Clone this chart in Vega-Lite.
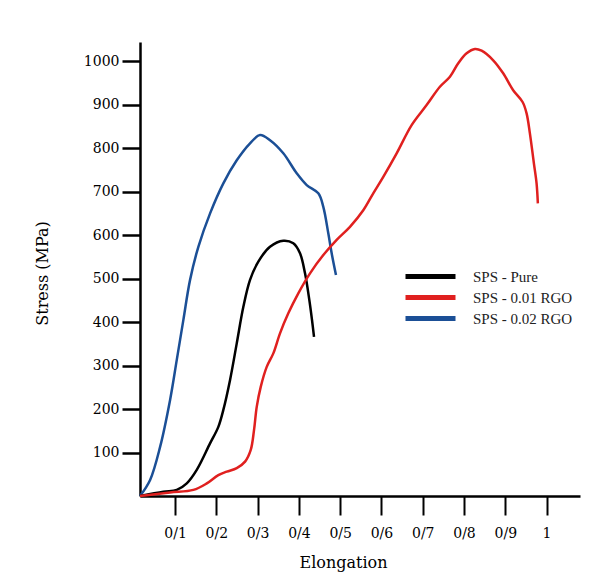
{
  "$schema": "https://vega.github.io/schema/vega-lite/v6.json",
  "width": 440,
  "height": 454,
  "autosize": {"type": "none"},
  "padding": {"left": 140, "top": 42, "right": 34, "bottom": 79},
  "background": "white",
  "config": {
    "view": {"stroke": null},
    "axis": {
      "grid": false,
      "domainColor": "#000",
      "tickColor": "#000",
      "labelColor": "#000",
      "titleColor": "#000",
      "labelFont": "DejaVu Serif",
      "titleFont": "DejaVu Serif",
      "labelFontSize": 14,
      "titleFontSize": 16,
      "titleFontWeight": "normal"
    }
  },
  "data": {
    "values": [
      {"series": "SPS - 0.02 RGO", "elongation": 0.015, "stress": 0},
      {"series": "SPS - 0.02 RGO", "elongation": 0.0395, "stress": 37},
      {"series": "SPS - 0.02 RGO", "elongation": 0.0637, "stress": 113},
      {"series": "SPS - 0.02 RGO", "elongation": 0.0879, "stress": 221},
      {"series": "SPS - 0.02 RGO", "elongation": 0.1041, "stress": 313},
      {"series": "SPS - 0.02 RGO", "elongation": 0.1201, "stress": 405},
      {"series": "SPS - 0.02 RGO", "elongation": 0.1363, "stress": 497},
      {"series": "SPS - 0.02 RGO", "elongation": 0.1564, "stress": 573},
      {"series": "SPS - 0.02 RGO", "elongation": 0.1848, "stress": 650},
      {"series": "SPS - 0.02 RGO", "elongation": 0.2169, "stress": 719},
      {"series": "SPS - 0.02 RGO", "elongation": 0.2494, "stress": 772},
      {"series": "SPS - 0.02 RGO", "elongation": 0.2816, "stress": 811},
      {"series": "SPS - 0.02 RGO", "elongation": 0.3058, "stress": 830},
      {"series": "SPS - 0.02 RGO", "elongation": 0.33, "stress": 818},
      {"series": "SPS - 0.02 RGO", "elongation": 0.3622, "stress": 788},
      {"series": "SPS - 0.02 RGO", "elongation": 0.3947, "stress": 742},
      {"series": "SPS - 0.02 RGO", "elongation": 0.4189, "stress": 715},
      {"series": "SPS - 0.02 RGO", "elongation": 0.447, "stress": 696},
      {"series": "SPS - 0.02 RGO", "elongation": 0.4591, "stress": 665},
      {"series": "SPS - 0.02 RGO", "elongation": 0.4712, "stress": 604},
      {"series": "SPS - 0.02 RGO", "elongation": 0.4794, "stress": 558},
      {"series": "SPS - 0.02 RGO", "elongation": 0.4898, "stress": 508},
      {"series": "SPS - Pure", "elongation": 0.015, "stress": 0},
      {"series": "SPS - Pure", "elongation": 0.0717, "stress": 10},
      {"series": "SPS - Pure", "elongation": 0.1041, "stress": 14},
      {"series": "SPS - Pure", "elongation": 0.1283, "stress": 29},
      {"series": "SPS - Pure", "elongation": 0.1525, "stress": 60},
      {"series": "SPS - Pure", "elongation": 0.1847, "stress": 121},
      {"series": "SPS - Pure", "elongation": 0.2048, "stress": 159},
      {"series": "SPS - Pure", "elongation": 0.2169, "stress": 198},
      {"series": "SPS - Pure", "elongation": 0.2332, "stress": 267},
      {"series": "SPS - Pure", "elongation": 0.2494, "stress": 351},
      {"series": "SPS - Pure", "elongation": 0.2654, "stress": 435},
      {"series": "SPS - Pure", "elongation": 0.2816, "stress": 497},
      {"series": "SPS - Pure", "elongation": 0.3017, "stress": 539},
      {"series": "SPS - Pure", "elongation": 0.33, "stress": 573},
      {"series": "SPS - Pure", "elongation": 0.3622, "stress": 587},
      {"series": "SPS - Pure", "elongation": 0.3864, "stress": 581},
      {"series": "SPS - Pure", "elongation": 0.4027, "stress": 558},
      {"series": "SPS - Pure", "elongation": 0.4148, "stress": 512},
      {"series": "SPS - Pure", "elongation": 0.4252, "stress": 451},
      {"series": "SPS - Pure", "elongation": 0.4317, "stress": 405},
      {"series": "SPS - Pure", "elongation": 0.4366, "stress": 366},
      {"series": "SPS - 0.01 RGO", "elongation": 0.015, "stress": 0},
      {"series": "SPS - 0.01 RGO", "elongation": 0.0879, "stress": 8},
      {"series": "SPS - 0.01 RGO", "elongation": 0.1443, "stress": 14},
      {"series": "SPS - 0.01 RGO", "elongation": 0.1768, "stress": 29},
      {"series": "SPS - 0.01 RGO", "elongation": 0.2048, "stress": 48},
      {"series": "SPS - 0.01 RGO", "elongation": 0.2252, "stress": 56},
      {"series": "SPS - 0.01 RGO", "elongation": 0.2494, "stress": 64},
      {"series": "SPS - 0.01 RGO", "elongation": 0.2695, "stress": 79},
      {"series": "SPS - 0.01 RGO", "elongation": 0.2833, "stress": 106},
      {"series": "SPS - 0.01 RGO", "elongation": 0.2913, "stress": 152},
      {"series": "SPS - 0.01 RGO", "elongation": 0.2978, "stress": 205},
      {"series": "SPS - 0.01 RGO", "elongation": 0.3075, "stress": 251},
      {"series": "SPS - 0.01 RGO", "elongation": 0.322, "stress": 297},
      {"series": "SPS - 0.01 RGO", "elongation": 0.338, "stress": 328},
      {"series": "SPS - 0.01 RGO", "elongation": 0.3542, "stress": 374},
      {"series": "SPS - 0.01 RGO", "elongation": 0.3743, "stress": 420},
      {"series": "SPS - 0.01 RGO", "elongation": 0.3985, "stress": 466},
      {"series": "SPS - 0.01 RGO", "elongation": 0.4269, "stress": 512},
      {"series": "SPS - 0.01 RGO", "elongation": 0.4591, "stress": 554},
      {"series": "SPS - 0.01 RGO", "elongation": 0.4915, "stress": 589},
      {"series": "SPS - 0.01 RGO", "elongation": 0.5237, "stress": 619},
      {"series": "SPS - 0.01 RGO", "elongation": 0.5559, "stress": 657},
      {"series": "SPS - 0.01 RGO", "elongation": 0.5801, "stress": 696},
      {"series": "SPS - 0.01 RGO", "elongation": 0.6044, "stress": 734},
      {"series": "SPS - 0.01 RGO", "elongation": 0.6368, "stress": 788},
      {"series": "SPS - 0.01 RGO", "elongation": 0.6731, "stress": 853},
      {"series": "SPS - 0.01 RGO", "elongation": 0.7094, "stress": 899},
      {"series": "SPS - 0.01 RGO", "elongation": 0.7416, "stress": 941},
      {"series": "SPS - 0.01 RGO", "elongation": 0.7659, "stress": 964},
      {"series": "SPS - 0.01 RGO", "elongation": 0.786, "stress": 995},
      {"series": "SPS - 0.01 RGO", "elongation": 0.8063, "stress": 1018},
      {"series": "SPS - 0.01 RGO", "elongation": 0.8264, "stress": 1028},
      {"series": "SPS - 0.01 RGO", "elongation": 0.8426, "stress": 1024},
      {"series": "SPS - 0.01 RGO", "elongation": 0.8707, "stress": 1002},
      {"series": "SPS - 0.01 RGO", "elongation": 0.8949, "stress": 972},
      {"series": "SPS - 0.01 RGO", "elongation": 0.9191, "stress": 933},
      {"series": "SPS - 0.01 RGO", "elongation": 0.9419, "stress": 906},
      {"series": "SPS - 0.01 RGO", "elongation": 0.9516, "stress": 880},
      {"series": "SPS - 0.01 RGO", "elongation": 0.9596, "stress": 834},
      {"series": "SPS - 0.01 RGO", "elongation": 0.9693, "stress": 765},
      {"series": "SPS - 0.01 RGO", "elongation": 0.9758, "stress": 719},
      {"series": "SPS - 0.01 RGO", "elongation": 0.9789, "stress": 673}
    ]
  },
  "mark": {"type": "line", "strokeWidth": 2.5, "interpolate": "catmull-rom"},
  "encoding": {
    "x": {
      "field": "elongation",
      "type": "quantitative",
      "scale": {"domain": [0.015, 1.081], "nice": false, "zero": false},
      "axis": {
        "values": [0.1, 0.2, 0.3, 0.4, 0.5, 0.6, 0.7, 0.8, 0.9, 1],
        "labelExpr": "datum.value >= 0.99 ? '1' : '0/' + round(datum.value * 10)",
        "title": "Elongation",
        "domainWidth": 2.5,
        "tickWidth": 2,
        "tickSize": 19,
        "labelPadding": 11,
        "labelFlush": false,
        "labelOverlap": false,
        "titleX": 203,
        "titleY": 66,
        "titleAlign": "center",
        "titleBaseline": "middle"
      }
    },
    "y": {
      "field": "stress",
      "type": "quantitative",
      "scale": {"domain": [0, 1044], "nice": false},
      "axis": {
        "values": [100, 200, 300, 400, 500, 600, 700, 800, 900, 1000],
        "format": "d",
        "title": "Stress (MPa)",
        "domainWidth": 2.5,
        "tickWidth": 2.5,
        "tickSize": 18,
        "labelPadding": 3,
        "labelFlush": false,
        "labelOverlap": false,
        "titleX": -98,
        "titleY": 231,
        "titleAlign": "center",
        "titleBaseline": "middle"
      }
    },
    "color": {
      "field": "series",
      "type": "nominal",
      "scale": {
        "domain": ["SPS - Pure", "SPS - 0.01 RGO", "SPS - 0.02 RGO"],
        "range": ["#000000", "#e0201f", "#1b4f96"]
      },
      "legend": {
        "title": null,
        "orient": "none",
        "legendX": 263,
        "legendY": 224,
        "padding": 0,
        "symbolType": "stroke",
        "symbolSize": 2500,
        "symbolStrokeWidth": 5,
        "clipHeight": 21,
        "rowPadding": 0,
        "labelOffset": 15,
        "labelFont": "Liberation Serif",
        "labelFontSize": 15,
        "labelColor": "#222"
      }
    }
  }
}
